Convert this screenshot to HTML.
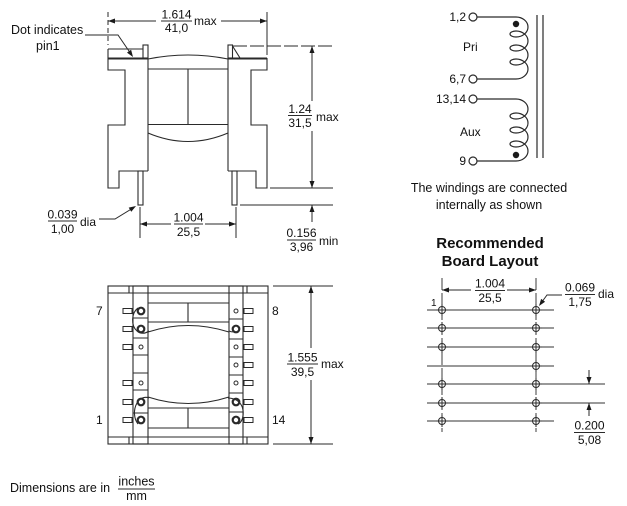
<!DOCTYPE html>
<html><head><meta charset="utf-8"><style>
html,body{margin:0;padding:0;background:#fff;}
svg{display:block;}
text{font-family:"Liberation Sans",Arial,sans-serif;fill:#111;}
</style></head><body>
<svg width="627" height="506" viewBox="0 0 627 506" xmlns="http://www.w3.org/2000/svg">
<g fill="none" stroke="#2a2a2a" stroke-width="1.1">
<!-- ===== TOP VIEW (side elevation) ===== -->
<path d="M108,49 H143"/>
<path d="M108,49 V70 H125 V125 H108 V188 H119 V171 H148"/>
<path d="M148,58 V171"/>
<rect x="143" y="45" width="5" height="13"/>
<path d="M108,58.5 H148" stroke-width="2"/>
<path d="M228,58.5 H267" stroke-width="2"/>
<rect x="228" y="45" width="4.5" height="13"/>
<path d="M232.5,46 L240,58"/>
<path d="M267,58 V70 H251 V125 H267 V188 H256 V171 H228"/>
<path d="M228,58 V171"/>
<path d="M148,59 Q188,51 228,59"/>
<path d="M148,69 H228"/>
<path d="M188,69 V124"/>
<path d="M148,124.5 H228"/>
<path d="M148,133 Q188,150 228,133"/>
<rect x="138" y="171" width="5" height="34"/>
<rect x="232" y="171" width="5" height="34"/>

<!-- dims top view -->
<path d="M108,12 V45" stroke-dasharray="5,3" stroke-width="1"/>
<path d="M267,12 V55" stroke-width="1"/>
<path d="M108,21 H156 M221,21 H267" stroke-width="1"/>
<path d="M161,21 H192" stroke-width="0.9"/>
<path d="M233,46 H333" stroke-dasharray="14,3" stroke-width="1"/>
<path d="M312,46 V101 M312,131 V188" stroke-width="1"/>
<path d="M288,115.5 H312" stroke-width="0.9"/>
<path d="M270,188 H333" stroke-width="1"/>
<path d="M240,205 H333" stroke-width="1"/>
<path d="M312,205 V222" stroke-width="1"/>
<path d="M287,240 H316" stroke-width="0.9"/>
<path d="M140,207 V238 M236,207 V238" stroke-width="1"/>
<path d="M140,224 H171 M205,224 H236" stroke-width="1"/>
<path d="M174,224 H203" stroke-width="0.9"/>
<path d="M48,221 H77" stroke-width="0.9"/>
<path d="M99,219 H115 L133,208" stroke-width="1"/>
<path d="M85,35 H118 L131,54" stroke-width="1"/>

<!-- ===== BOTTOM VIEW ===== -->
<rect x="108" y="286" width="160" height="158"/>
<path d="M108,293 H268 M108,437 H268"/>
<path d="M129,286 V293 M247,286 V293 M129,437 V444 M247,437 V444"/>
<rect x="133" y="286" width="15" height="158"/>
<rect x="229" y="286" width="14" height="158"/>
<path d="M148,303 H229 M148,322 H229 M188,303 V322"/>
<path d="M148,332 Q188,319 229,332"/>
<path d="M148,397 Q188,410 229,397"/>
<path d="M148,408 H229 M148,428 H229 M188,408 V428"/>
<path d="M133,318 H148 M133,338 H148 M133,355 H148 M133,373 H148 M133,390 H148 M133,413 H148"/>
<path d="M229,319 H243 M229,339 H243 M229,357 H243 M229,375 H243 M229,393 H243 M229,412 H243"/>
<g stroke-width="1">
<rect x="123" y="308.5" width="9" height="5"/><rect x="123" y="326.5" width="9" height="5"/>
<rect x="123" y="344.5" width="9" height="5"/><rect x="123" y="380.5" width="9" height="5"/>
<rect x="123" y="399.5" width="9" height="5"/><rect x="123" y="417.5" width="9" height="5"/>
<rect x="244" y="308.5" width="9" height="5"/><rect x="244" y="326.5" width="9" height="5"/>
<rect x="244" y="344.5" width="9" height="5"/><rect x="244" y="362.5" width="9" height="5"/>
<rect x="244" y="380.5" width="9" height="5"/><rect x="244" y="399.5" width="9" height="5"/>
<rect x="244" y="417.5" width="9" height="5"/>
<circle cx="141" cy="347" r="2"/><circle cx="141" cy="383" r="2"/>
<circle cx="236" cy="311" r="2"/><circle cx="236" cy="347" r="2"/>
<circle cx="236" cy="365" r="2"/><circle cx="236" cy="383" r="2"/>
</g>
<g stroke-width="2.2">
<circle cx="141" cy="311" r="3.3"/><circle cx="141" cy="329" r="3.3"/>
<circle cx="141" cy="402" r="3.3"/><circle cx="141" cy="420" r="3.3"/>
<circle cx="236" cy="329" r="3.3"/><circle cx="236" cy="402" r="3.3"/>
<circle cx="236" cy="420" r="3.3"/>
</g>
<path d="M138,308 C131,313 131,326 137,331 C140,334 145,334 149,331"/>
<path d="M149,398 C144,396 139,399 137,403 C133,410 134,419 138,424"/>
<path d="M234,332 Q231,332 229,331"/>
<path d="M228,398 C236,398 242,403 243,410 C244,418 241,423 238,424"/>
<!-- 1.555 dim -->
<path d="M273,286 H333 M273,444 H333" stroke-width="1"/>
<path d="M311,286 V348 M311,380 V444" stroke-width="1"/>
<path d="M287,364 H318" stroke-width="0.9"/>

<!-- ===== SCHEMATIC ===== -->
<g stroke-width="1.2">
<circle cx="473" cy="17" r="4"/><circle cx="473" cy="79" r="4"/>
<circle cx="473" cy="99" r="4"/><circle cx="473" cy="161" r="4"/>
<path d="M477,17 H516 A12,10 0 0 1 516,37 A6,3 0 0 1 516,31 A12,10 0 0 1 516,51 A6,3 0 0 1 516,45 A12,10 0 0 1 516,65 A6,3 0 0 1 516,59 A12,10 0 0 1 516,79 H477"/>
<path d="M477,99 H516 A12,10 0 0 1 516,119 A6,3 0 0 1 516,113 A12,10 0 0 1 516,133 A6,3 0 0 1 516,127 A12,10 0 0 1 516,147 A6,3 0 0 1 516,141 A12,10 0 0 1 516,161 H477"/>
<path d="M537,15 V158 M543,15 V158"/>
</g>

<!-- ===== BOARD LAYOUT ===== -->
<path d="M442,278 V432 M536,278 V432" stroke-width="0.9" stroke-dasharray="12,3"/>
<path d="M442,290 H471 M507,290 H536" stroke-width="1"/>
<path d="M475,290.5 H505" stroke-width="0.9"/>
<path d="M565,294.5 H595" stroke-width="0.9"/>
<path d="M562,295 H547 L541.5,302.5" stroke-width="1"/>
<g stroke-width="1" stroke="#333">
<path d="M427,310 H436 M448,310 H530 M542,310 H554"/>
<path d="M427,328 H436 M448,328 H530 M542,328 H554"/>
<path d="M427,347 H436 M448,347 H530 M542,347 H554"/>
<path d="M427,366 H530 M542,366 H554"/>
<path d="M427,384 H436 M448,384 H530 M542,384 H605"/>
<path d="M427,403 H436 M448,403 H530 M542,403 H605"/>
<path d="M427,421 H436 M448,421 H530 M542,421 H554"/>
</g>
<g stroke-width="1">
<circle cx="442" cy="310" r="3.5"/><path d="M436,310 H448 M442,304 V316"/>
<circle cx="442" cy="328" r="3.5"/><path d="M436,328 H448 M442,322 V334"/>
<circle cx="442" cy="347" r="3.5"/><path d="M436,347 H448 M442,341 V353"/>
<circle cx="442" cy="384" r="3.5"/><path d="M436,384 H448 M442,378 V390"/>
<circle cx="442" cy="403" r="3.5"/><path d="M436,403 H448 M442,397 V409"/>
<circle cx="442" cy="421" r="3.5"/><path d="M436,421 H448 M442,415 V427"/>
<circle cx="536" cy="310" r="3.5"/><path d="M530,310 H542 M536,304 V316"/>
<circle cx="536" cy="328" r="3.5"/><path d="M530,328 H542 M536,322 V334"/>
<circle cx="536" cy="347" r="3.5"/><path d="M530,347 H542 M536,341 V353"/>
<circle cx="536" cy="366" r="3.5"/><path d="M530,366 H542 M536,360 V372"/>
<circle cx="536" cy="384" r="3.5"/><path d="M530,384 H542 M536,378 V390"/>
<circle cx="536" cy="403" r="3.5"/><path d="M530,403 H542 M536,397 V409"/>
<circle cx="536" cy="421" r="3.5"/><path d="M530,421 H542 M536,415 V427"/>
</g>
<path d="M589,370 V384 M589,403 V416" stroke-width="1"/>
<path d="M574,432.5 H605" stroke-width="0.9"/>
<path d="M118,489 H155" stroke-width="0.9"/>
</g>

<!-- arrowheads -->
<g fill="#1a1a1a" stroke="none">
<polygon points="108,21 115,18.5 115,23.5"/>
<polygon points="267,21 260,18.5 260,23.5"/>
<polygon points="312,46 309.5,53 314.5,53"/>
<polygon points="312,188 309.5,181 314.5,181"/>
<polygon points="312,205 309.5,212 314.5,212"/>
<polygon points="140,224 147,221.5 147,226.5"/>
<polygon points="236,224 229,221.5 229,226.5"/>
<polygon points="136,206 131.3,211.8 128.7,207.6"/>
<polygon points="133,57 131.1,49.8 127,52.6"/>
<polygon points="311,286 308.5,293 313.5,293"/>
<polygon points="311,444 308.5,437 313.5,437"/>
<polygon points="442,290 449,287.5 449,292.5"/>
<polygon points="536,290 529,287.5 529,292.5"/>
<polygon points="539,306 545.1,301.8 541.1,298.9"/>
<polygon points="589,384 586.5,377 591.5,377"/>
<polygon points="589,403 586.5,410 591.5,410"/>
<circle cx="516" cy="24" r="3.2"/>
<circle cx="516" cy="155" r="3.2"/>
</g>

<!-- text -->
<g font-size="12.5">
<text x="11" y="34">Dot indicates</text>
<text x="36" y="50">pin1</text>
</g>
<g font-size="12" text-anchor="middle">
<text x="176.5" y="18.5">1.614</text>
<text x="176.5" y="32">41,0</text>
<text x="300" y="113">1.24</text>
<text x="300" y="127">31,5</text>
<text x="301.5" y="237">0.156</text>
<text x="301.5" y="251">3,96</text>
<text x="188.5" y="221.5">1.004</text>
<text x="188.5" y="236">25,5</text>
<text x="62.5" y="218.5">0.039</text>
<text x="62.5" y="233">1,00</text>
<text x="302.5" y="361.5">1.555</text>
<text x="302.5" y="376">39,5</text>
<text x="490" y="287.5">1.004</text>
<text x="490" y="302">25,5</text>
<text x="580" y="291.5">0.069</text>
<text x="580" y="306">1,75</text>
<text x="589.5" y="429.5">0.200</text>
<text x="589.5" y="444">5,08</text>
</g>
<g font-size="12">
<text x="194" y="25">max</text>
<text x="316" y="121">max</text>
<text x="319" y="245">min</text>
<text x="80" y="226">dia</text>
<text x="321" y="368">max</text>
<text x="598" y="298">dia</text>
<text x="96" y="315">7</text>
<text x="96" y="424">1</text>
<text x="272" y="315">8</text>
<text x="272" y="424">14</text>
<text x="463" y="51">Pri</text>
<text x="460" y="136">Aux</text>
</g>
<g font-size="12" text-anchor="end">
<text x="466" y="21">1,2</text>
<text x="466" y="83">6,7</text>
<text x="466" y="103">13,14</text>
<text x="466" y="165">9</text>
</g>
<text x="431" y="306" font-size="10">1</text>
<g font-size="12.5" text-anchor="middle">
<text x="489" y="192">The windings are connected</text>
<text x="489" y="209">internally as shown</text>
</g>
<g font-size="15" font-weight="bold" text-anchor="middle">
<text x="490" y="248">Recommended</text>
<text x="490" y="266">Board Layout</text>
</g>
<text x="10" y="492" font-size="12.5">Dimensions are in</text>
<text x="136.5" y="485.5" font-size="12.5" text-anchor="middle">inches</text>
<text x="136.5" y="500" font-size="12.5" text-anchor="middle">mm</text>
</svg>
</body></html>
